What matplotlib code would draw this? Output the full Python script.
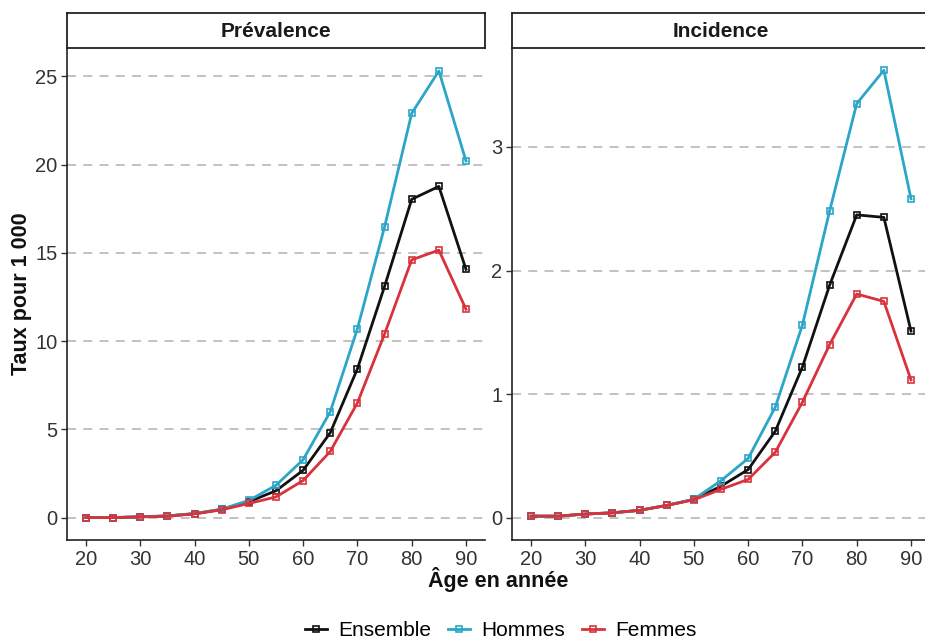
import matplotlib.pyplot as plt
import matplotlib.ticker as mticker

###############################################################################
# Data
ages = [20, 25, 30, 35, 40, 45, 50, 55, 60, 65, 70, 75, 80, 85, 90]

prev_ensemble = [0.0, 0.0, 0.04, 0.09, 0.22, 0.46, 0.90, 1.52, 2.68, 4.81, 8.43, 13.1, 18.03, 18.76, 14.06]
prev_hommes = [0.0, 0.0, 0.05, 0.10, 0.23, 0.48, 0.97, 1.83, 3.28, 6.0, 10.7, 16.47, 22.9, 25.3, 20.2]
prev_femmes = [0.0, 0.0, 0.04, 0.08, 0.21, 0.44, 0.80, 1.17, 2.10, 3.75, 6.5, 10.4, 14.6, 15.15, 11.8]

inc_ensemble = [0.013, 0.013, 0.03, 0.04, 0.06, 0.10, 0.148, 0.255, 0.39, 0.70, 1.22, 1.88, 2.45, 2.43, 1.51]
inc_hommes = [0.013, 0.013, 0.03, 0.04, 0.06, 0.10, 0.15, 0.30, 0.48, 0.895, 1.56, 2.48, 3.35, 3.62, 2.58]
inc_femmes = [0.013, 0.013, 0.03, 0.04, 0.06, 0.10, 0.145, 0.23, 0.31, 0.53, 0.935, 1.40, 1.81, 1.75, 1.115]

series_names = ["Ensemble", "Hommes", "Femmes"]
series_colors = ["#111111", "#2BA6C8", "#D8333D"]

panels = [
    ("Prévalence", [prev_ensemble, prev_hommes, prev_femmes], [0, 5, 10, 15, 20, 25], (-1.27, 26.6)),
    ("Incidence", [inc_ensemble, inc_hommes, inc_femmes], [0, 1, 2, 3], (-0.18, 3.8)),
]
x_ticks = [20, 30, 40, 50, 60, 70, 80, 90]

###############################################################################
# Plot
W, H = 925, 644
fig = plt.figure(figsize=(W / 100, H / 100), dpi=100)
plt.rcParams['font.family'] = ['Liberation Sans', 'DejaVu Sans']

panel_left_px = [67, 512]
panel_w_px = 418
top_px, bottom_px, strip_top_px = 48, 540, 13

handles = []
for (title, data, yticks, ylim), lx in zip(panels, panel_left_px):
    ax = fig.add_axes([lx / W, 1 - bottom_px / H, panel_w_px / W, (bottom_px - top_px) / H])
    for vals, name, col in zip(data, series_names, series_colors):
        ln, = ax.plot(ages, vals, color=col, lw=2.0, marker='s', ms=5.0,
                      mfc='none', mec=col, mew=1.2, label=name, zorder=3)
        if title == "Prévalence":
            handles.append(ln)
    ax.set_xlim(16.5, 93.5)
    ax.set_ylim(*ylim)
    ax.set_xticks(x_ticks)
    ax.set_yticks(yticks)
    ax.yaxis.set_major_formatter(mticker.FuncFormatter(lambda v, p: f"{v:g}"))
    for y in yticks:
        ax.axhline(y, color='#BDBDBD', lw=1.3, ls=(0, (5, 4)), zorder=1)
    for s in ['top', 'right']:
        ax.spines[s].set_visible(False)
    for s in ['left', 'bottom']:
        ax.spines[s].set_linewidth(1.2)
        ax.spines[s].set_color('#222222')
    ax.tick_params(axis='both', labelsize=14.5, labelcolor='#333333', color='#333333',
                   length=4, width=1.0, pad=3)

    # strip
    sax = fig.add_axes([lx / W, 1 - top_px / H, panel_w_px / W, (top_px - strip_top_px) / H])
    sax.set_xticks([])
    sax.set_yticks([])
    for s in sax.spines.values():
        s.set_linewidth(1.3)
        s.set_color('#222222')
    sax.text(0.5, 0.48, title, ha='center', va='center', fontsize=15,
             fontweight='bold', color='#1a1a1a', transform=sax.transAxes)

fig.text(498 / W, 1 - 580 / H, "Âge en année", ha='center', va='center',
         fontsize=15.5, fontweight='bold', color='#111111')
fig.text(22 / W, 1 - 294 / H, "Taux pour 1 000", ha='center', va='center',
         rotation=90, fontsize=15.5, fontweight='bold', color='#111111')

fig.legend(handles=handles, labels=series_names, loc='center',
           bbox_to_anchor=(501 / W, 1 - 631 / H), ncol=3, frameon=False,
           fontsize=15, handlelength=1.05, handletextpad=0.55, columnspacing=0.8,
           markerscale=0.9)

fig.savefig("out.png", dpi=100)
